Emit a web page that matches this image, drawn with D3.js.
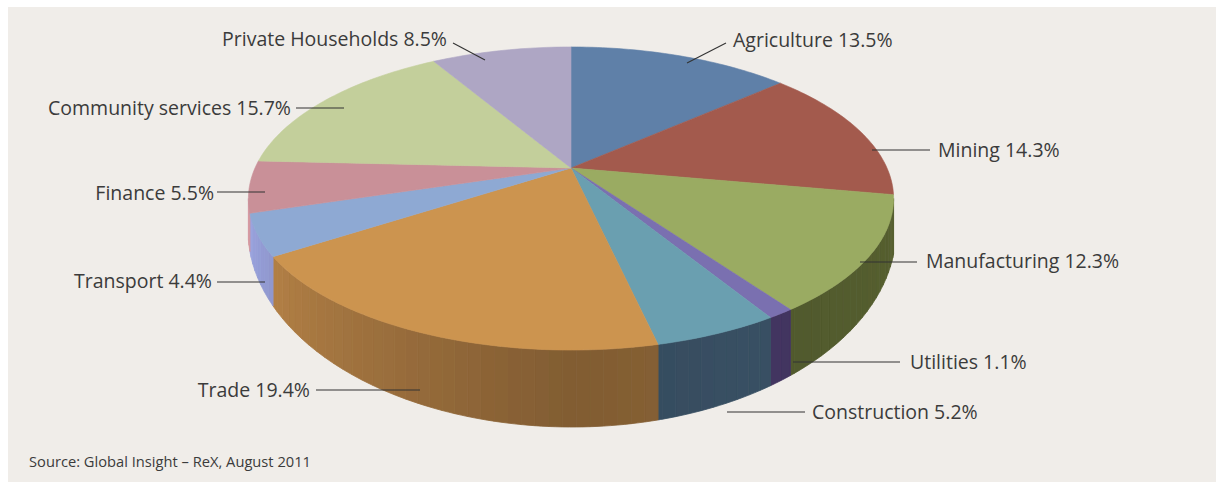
<!DOCTYPE html>
<html>
<head>
<meta charset="utf-8">
<script src="https://cdn.jsdelivr.net/npm/d3@7"></script>
<style>
  html, body { margin: 0; padding: 0; background: #fff; }
  svg { display: block; }
  text { font-family: "Open Sans", sans-serif; fill: #3b3b3b; }
</style>
</head>
<body>
<script>
const sectors = ["Agriculture", "Mining", "Manufacturing", "Utilities", "Construction", "Trade", "Transport", "Finance", "Community services", "Private Households"];
const shares = [13.5, 14.3, 12.3, 1.1, 5.2, 19.4, 4.4, 5.5, 15.7, 8.5];
const topColors = ["#5f80a8", "#a35a4e", "#9aab62", "#7a6fb0", "#6a9fb0", "#cc944f", "#8ea9d3", "#c99098", "#c3cf9b", "#aea6c4"];
const wallColors = ["#4d6785", "#8a4a40", "#5a6432", "#4b3a6c", "#3f5a70", "#9a6e3c", "#7c83b2", "#a97a80", "#a3ad80", "#8e87a2"];
const sourceNote = "Source: Global Insight – ReX, August 2011";

// label layout, same order as sectors: text anchor point, then leader line ends
const labelLayout = [
    { x: 733, y: 47, anchor: "start", line: [726, 43, 687, 63] },
    { x: 938, y: 157, anchor: "start", line: [930, 150, 872, 150] },
    { x: 926, y: 268, anchor: "start", line: [917, 262, 860, 262] },
    { x: 910, y: 369, anchor: "start", line: [900, 362, 793, 362] },
    { x: 812, y: 419, anchor: "start", line: [805, 412, 727, 412] },
    { x: 310, y: 397, anchor: "end", line: [316, 390, 420, 390] },
    { x: 212, y: 288, anchor: "end", line: [217, 282, 265, 282] },
    { x: 214, y: 200, anchor: "end", line: [217, 192, 265, 192] },
    { x: 291, y: 115, anchor: "end", line: [296, 108, 344, 108] },
    { x: 447, y: 46, anchor: "end", line: [453, 43, 485, 60] }
];

const width = 1216;
const height = 482;

// the photo of the pie is in perspective: apex is off the ellipse centre
const apex = { x: 571, y: 168 };
const tilt = 0.2013;
const radiusX = 316;
const radiusY = 145.4;
// lower rim of the wall, plain ellipse
const rim = { x: 572, y: 230, rx: 324, ry: 197 };

const project = angle => {
    const u = Math.sin(angle), v = -Math.cos(angle);
    const w = 1 - tilt * v;
    return [apex.x + radiusX * u / w, apex.y + radiusY * v / w];
};
const rimY = x => {
    const t = Math.min(1, Math.abs(x - rim.x) / rim.rx);
    return rim.y + rim.ry * Math.sqrt(1 - t * t);
};

const svg = d3.select("body").append("svg")
    .attr("width", width)
    .attr("height", height);

const defs = svg.append("defs");
defs.append("filter").attr("id", "soft")
    .attr("x", "-5%").attr("y", "-5%").attr("width", "110%").attr("height", "110%")
    .append("feGaussianBlur").attr("stdDeviation", 0.7);

svg.append("rect")
    .attr("x", 8).attr("y", 7)
    .attr("width", width - 8).attr("height", height - 7)
    .attr("fill", "#f0ede9");

const slices = d3.pie().sort(null).value(d => d)(shares);
const step = 0.035;
const g = svg.append("g").attr("filter", "url(#soft)");

// walls first, only the part of the rim that looks at the viewer
const wallFrom = Math.acos(-tilt);
const wallTo = 2 * Math.PI - wallFrom;
const wall = d3.area().x(d => d[0]).y0(d => d[1]).y1(d => rimY(d[0]));
const shade = d3.scaleLinear().domain([Math.PI / 2, Math.PI, Math.PI * 1.3]).range([0.98, 0.84, 1.14]);

slices.forEach((s, i) => {
    const from = Math.max(s.startAngle, wallFrom);
    const to = Math.min(s.endAngle, wallTo);
    if (to <= from) return;
    const angles = d3.range(from, to, step).concat([to]);
    d3.pairs(angles).forEach(([a, b]) => {
        const c = d3.color(wallColors[i]);
        const m = shade((a + b) / 2);
        const fill = d3.rgb(c.r * m, c.g * m, c.b * m).formatHex();
        g.append("path")
            .attr("d", wall([project(a), project((a + b) / 2), project(b)].sort((p, q) => p[0] - q[0])))
            .attr("fill", fill)
            .attr("stroke", fill)
            .attr("stroke-width", 0.8);
    });
});

// top face
const wedge = d3.line();
slices.forEach((s, i) => {
    const angles = d3.range(s.startAngle, s.endAngle, 0.02).concat([s.endAngle]);
    g.append("path")
        .attr("d", wedge([[apex.x, apex.y]].concat(angles.map(project))) + "Z")
        .attr("fill", topColors[i])
        .attr("stroke", topColors[i])
        .attr("stroke-width", 0.6);
});

svg.selectAll("line.leader")
    .data(labelLayout)
    .join("line")
    .attr("class", "leader")
    .attr("x1", d => d.line[0]).attr("y1", d => d.line[1])
    .attr("x2", d => d.line[2]).attr("y2", d => d.line[3])
    .attr("stroke", "#333")
    .attr("stroke-width", 1.1);

svg.selectAll("text.label")
    .data(labelLayout)
    .join("text")
    .attr("class", "label")
    .attr("x", d => d.x).attr("y", d => d.y)
    .attr("text-anchor", d => d.anchor)
    .attr("font-size", 19.5)
    .text((d, i) => `${sectors[i]} ${shares[i]}%`);

svg.append("text")
    .attr("x", 29).attr("y", 467)
    .attr("font-size", 15)
    .attr("textLength", 282)
    .attr("lengthAdjust", "spacingAndGlyphs")
    .text(sourceNote);
</script>
</body>
</html>
